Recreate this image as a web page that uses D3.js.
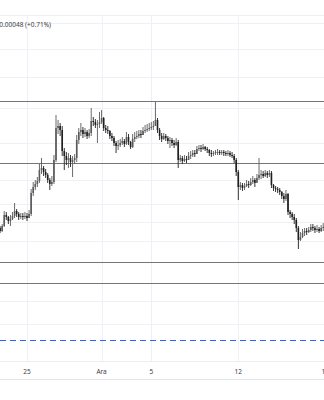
<!DOCTYPE html>
<html>
<head>
<meta charset="utf-8">
<script src="https://cdn.jsdelivr.net/npm/d3@7"></script>
<style>
    html, body { margin: 0; padding: 0; background: #fff; }
    #chart-view { width: 324px; height: 400px; overflow: hidden; }
    text { font-family: "Noto Sans", Roboto, sans-serif; }
</style>
</head>
<body>
<div id="chart-view"></div>
<script>
// 4 saatlik mumlar, ilk mum 22 Kasim 20:00
const startTime = Date.UTC(2023, 10, 22, 20);
const barHours = 4;

const opens = [0.0681,
    0.0678,0.0683,0.0694,0.0692,0.0688,0.0690,0.0693,0.0698,0.0695,0.0692,
    0.0693,0.0692,0.0693,0.0691,0.0695,0.0716,0.0722,0.0725,0.0728,0.0739,
    0.0741,0.0737,0.0734,0.0729,0.0725,0.0727,0.0749,0.0781,0.0783,0.0779,
    0.0758,0.0753,0.0749,0.0751,0.0747,0.0749,0.0751,0.0769,0.0777,0.0779,
    0.0775,0.0777,0.0773,0.0776,0.0788,0.0787,0.0784,0.0785,0.0787,0.0791,
    0.0781,0.0779,0.0778,0.0773,0.0771,0.0766,0.0763,0.0764,0.0766,0.0768,
    0.0765,0.0772,0.0767,0.0762,0.0770,0.0772,0.0773,0.0775,0.0774,0.0778,
    0.0779,0.0780,0.0781,0.0782,0.0783,0.0789,0.0779,0.0773,0.0770,0.0773,
    0.0771,0.0768,0.0769,0.0766,0.0764,0.0767,0.0749,0.0751,0.0748,0.0750,
    0.0749,0.0753,0.0754,0.0756,0.0755,0.0760,0.0761,0.0760,0.0762,0.0760,
    0.0759,0.0756,0.0755,0.0756,0.0757,
    0.0757,0.0756,0.0757,0.0756,0.0755,0.0756,0.0754,0.0753,0.0749,0.0737,
    0.0722,0.0724,0.0721,0.0723,0.0725,0.0724,0.0727,0.0729,0.0726,0.0731,
    0.0734,0.0735,0.0733,0.0736,0.0734,0.0736,0.0724,0.0721,0.0720,0.0719,
    0.0717,0.0713,0.0710,0.0715,0.0697,0.0695,0.0692,0.0689,0.0681,0.0669,
    0.0672,0.0676,0.0678,0.0677,0.0679,0.0682,0.0681,0.0679,0.0680,0.0678,0.0681,0.0682];

const closes = [
    0.0678,0.0683,0.0694,0.0692,0.0688,0.0690,0.0693,0.0698,0.0695,0.0692,
    0.0693,0.0692,0.0693,0.0691,0.0695,0.0716,0.0722,0.0725,0.0728,0.0739,
    0.0741,0.0737,0.0734,0.0729,0.0725,0.0727,0.0749,0.0781,0.0783,0.0779,
    0.0758,0.0753,0.0749,0.0751,0.0747,0.0749,0.0751,0.0769,0.0777,0.0779,
    0.0775,0.0777,0.0773,0.0776,0.0788,0.0787,0.0784,0.0785,0.0787,0.0791,
    0.0781,0.0779,0.0778,0.0773,0.0771,0.0766,0.0763,0.0764,0.0766,0.0768,
    0.0765,0.0772,0.0767,0.0762,0.0770,0.0772,0.0773,0.0775,0.0774,0.0778,
    0.0779,0.0780,0.0781,0.0782,0.0783,0.0789,0.0779,0.0773,0.0770,0.0773,
    0.0771,0.0768,0.0769,0.0766,0.0764,0.0767,0.0749,0.0751,0.0748,0.0750,
    0.0749,0.0753,0.0754,0.0756,0.0755,0.0760,0.0761,0.0760,0.0762,0.0760,
    0.0759,0.0756,0.0755,0.0756,0.0757,
    0.0757,0.0756,0.0757,0.0756,0.0755,0.0756,0.0754,0.0753,0.0749,0.0737,
    0.0722,0.0724,0.0721,0.0723,0.0725,0.0724,0.0727,0.0729,0.0726,0.0731,
    0.0734,0.0735,0.0733,0.0736,0.0734,0.0736,0.0724,0.0721,0.0720,0.0719,
    0.0717,0.0713,0.0710,0.0715,0.0697,0.0695,0.0692,0.0689,0.0681,0.0669,
    0.0672,0.0676,0.0678,0.0677,0.0679,0.0682,0.0681,0.0679,0.0680,0.0678,0.0681,0.0682,
    0.0681];

const highs = [
    0.0683,0.0685,0.0698,0.0697,0.0693,0.0694,0.0697,0.0706,0.0700,0.0697,
    0.0696,0.0696,0.0697,0.0696,0.0699,0.0720,0.0727,0.0729,0.0732,0.0745,
    0.0751,0.0743,0.0740,0.0736,0.0731,0.0733,0.0754,0.0794,0.0789,0.0786,
    0.0783,0.0761,0.0757,0.0756,0.0754,0.0753,0.0755,0.0774,0.0781,0.0786,
    0.0782,0.0781,0.0779,0.0780,0.0801,0.0792,0.0790,0.0789,0.0797,0.0799,
    0.0792,0.0784,0.0783,0.0779,0.0776,0.0773,0.0768,0.0769,0.0770,0.0772,
    0.0770,0.0777,0.0775,0.0768,0.0775,0.0777,0.0778,0.0779,0.0779,0.0782,
    0.0784,0.0785,0.0786,0.0787,0.0788,0.0807,0.0791,0.0781,0.0776,0.0776,
    0.0775,0.0773,0.0772,0.0771,0.0769,0.0771,0.0769,0.0754,0.0753,0.0754,
    0.0753,0.0757,0.0758,0.0759,0.0759,0.0763,0.0764,0.0764,0.0765,0.0763,
    0.0762,0.0760,0.0759,0.0758,0.0759,
    0.0760,0.0759,0.0759,0.0759,0.0758,0.0759,0.0758,0.0757,0.0755,0.0751,
    0.0739,0.0727,0.0726,0.0726,0.0729,0.0728,0.0731,0.0733,0.0731,0.0735,
    0.0751,0.0739,0.0738,0.0739,0.0738,0.0739,0.0738,0.0725,0.0723,0.0722,
    0.0721,0.0718,0.0716,0.0719,0.0716,0.0699,0.0697,0.0695,0.0691,0.0683,
    0.0677,0.0680,0.0681,0.0681,0.0682,0.0685,0.0685,0.0683,0.0684,0.0682,0.0684,0.0686,
    0.0684];

const lows = [
    0.0676,0.0677,0.0682,0.0689,0.0685,0.0683,0.0689,0.0691,0.0692,0.0689,
    0.0690,0.0689,0.0690,0.0688,0.0691,0.0693,0.0713,0.0719,0.0722,0.0726,
    0.0735,0.0733,0.0731,0.0726,0.0719,0.0723,0.0725,0.0747,0.0775,0.0773,
    0.0753,0.0739,0.0744,0.0741,0.0742,0.0732,0.0745,0.0747,0.0765,0.0773,
    0.0771,0.0772,0.0770,0.0771,0.0773,0.0783,0.0781,0.0766,0.0781,0.0785,
    0.0778,0.0776,0.0775,0.0770,0.0768,0.0763,0.0756,0.0759,0.0762,0.0764,
    0.0762,0.0764,0.0764,0.0760,0.0761,0.0767,0.0770,0.0771,0.0771,0.0774,
    0.0776,0.0777,0.0778,0.0779,0.0779,0.0783,0.0776,0.0769,0.0767,0.0769,
    0.0768,0.0765,0.0761,0.0763,0.0761,0.0763,0.0741,0.0747,0.0745,0.0747,
    0.0746,0.0749,0.0750,0.0752,0.0752,0.0755,0.0758,0.0757,0.0759,0.0758,
    0.0756,0.0753,0.0752,0.0753,0.0754,
    0.0754,0.0754,0.0754,0.0753,0.0753,0.0753,0.0752,0.0751,0.0746,0.0733,
    0.0709,0.0719,0.0718,0.0719,0.0722,0.0721,0.0723,0.0725,0.0722,0.0727,
    0.0729,0.0730,0.0731,0.0732,0.0731,0.0732,0.0721,0.0718,0.0717,0.0716,
    0.0714,0.0710,0.0706,0.0708,0.0694,0.0691,0.0689,0.0685,0.0677,0.0660,
    0.0668,0.0671,0.0673,0.0674,0.0676,0.0677,0.0678,0.0676,0.0677,0.0676,0.0677,0.0678,
    0.0678];

// yatay seviyeler
const levels = [0.0808, 0.0746, 0.0647, 0.0626];
const dashedLevel = 0.0569;
const gridPrices = [0.0894, 0.0886, 0.0860, 0.0832, 0.0801, 0.0766, 0.0729, 0.0705, 0.0687, 0.0668, 0.0608, 0.0585];

const tickDates = [Date.UTC(2023, 10, 25), Date.UTC(2023, 11, 1), Date.UTC(2023, 11, 5), Date.UTC(2023, 11, 12), Date.UTC(2023, 11, 19)];
const tickLabels = ["25", "Ara", "5", "12", "19"];
const changeText = "+0.00048 (+0.71%)";

const drawChart = function () {
    const width = 324;
    const height = 400;
    const paneTop = 15;
    const paneBottom = 361;
    const axisBottom = 379;

    const x = d3.scaleUtc()
        .domain([Date.UTC(2023, 10, 25), Date.UTC(2023, 11, 12)])
        .range([27, 238.3]);

    const y = d3.scaleLinear()
        .domain([0.0548, 0.0894])
        .range([paneBottom, paneTop]);

    const crisp = v => Math.round(v) + 0.5;

    const svg = d3.select('#chart-view').append('svg')
        .attr('width', width)
        .attr('height', height);

    // grid
    svg.append('g').selectAll('line')
        .data(gridPrices)
        .join('line')
        .attr('x1', 0).attr('x2', width)
        .attr('y1', d => crisp(y(d))).attr('y2', d => crisp(y(d)))
        .attr('stroke', '#eef0f5');

    svg.append('g').selectAll('line')
        .data(tickDates)
        .join('line')
        .attr('x1', d => crisp(x(d))).attr('x2', d => crisp(x(d)))
        .attr('y1', paneTop).attr('y2', paneBottom)
        .attr('stroke', '#eef0f5');

    // time axis
    svg.append('line')
        .attr('x1', 0).attr('x2', width)
        .attr('y1', paneBottom + 0.5).attr('y2', paneBottom + 0.5)
        .attr('stroke', '#eceef2');
    svg.append('line')
        .attr('x1', 0).attr('x2', width)
        .attr('y1', axisBottom + 0.5).attr('y2', axisBottom + 0.5)
        .attr('stroke', '#e3e5ea');

    svg.append('g').selectAll('text')
        .data(tickDates)
        .join('text')
        .attr('x', d => x(d))
        .attr('y', 374)
        .attr('text-anchor', 'middle')
        .attr('font-size', '6.5px')
        .attr('fill', '#3a3d45')
        .text((d, i) => tickLabels[i]);

    // seviye cizgileri
    svg.append('g').selectAll('line')
        .data(levels)
        .join('line')
        .attr('x1', 0).attr('x2', width)
        .attr('y1', d => crisp(y(d))).attr('y2', d => crisp(y(d)))
        .attr('stroke', '#767676')
        .attr('stroke-width', 1);

    svg.append('line')
        .attr('x1', 0).attr('x2', width)
        .attr('y1', crisp(y(dashedLevel))).attr('y2', crisp(y(dashedLevel)))
        .attr('stroke', '#2962ff')
        .attr('stroke-width', 1.2)
        .attr('stroke-dasharray', '6,4');

    // mumlar
    const bars = d3.range(closes.length).map(i => ({
        t: startTime + i * barHours * 3600 * 1000,
        o: opens[i], h: highs[i], l: lows[i], c: closes[i]
    }));

    const candle = svg.append('g').selectAll('g')
        .data(bars)
        .join('g');

    const col = d => d.c >= d.o ? '#5a5a5a' : '#1f1f1f';

    candle.append('line')
        .attr('x1', d => x(d.t)).attr('x2', d => x(d.t))
        .attr('y1', d => y(d.h)).attr('y2', d => y(d.l))
        .attr('stroke', col)
        .attr('stroke-width', 0.9);

    candle.append('rect')
        .attr('x', d => x(d.t) - 0.8)
        .attr('width', 1.6)
        .attr('y', d => y(Math.max(d.o, d.c)))
        .attr('height', d => Math.max(1, Math.abs(y(d.o) - y(d.c))))
        .attr('fill', col);

    // baslik
    svg.append('text')
        .attr('x', 51)
        .attr('y', 27)
        .attr('text-anchor', 'end')
        .attr('font-size', '6.5px')
        .attr('fill', '#3a3d45')
        .text(changeText);
};

drawChart();
</script>
</body>
</html>
